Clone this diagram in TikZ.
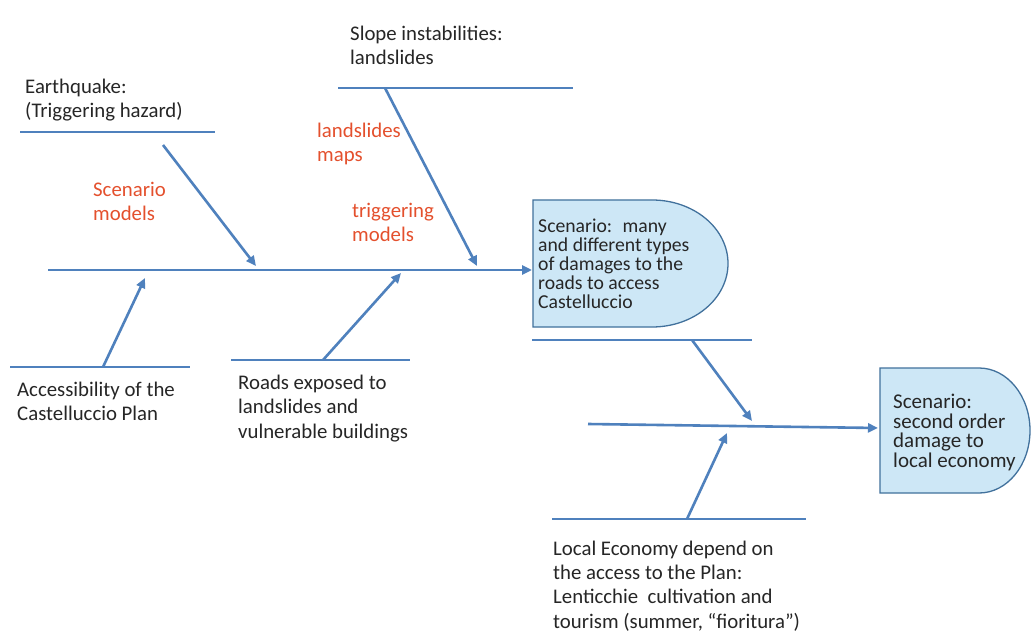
\documentclass[tikz,border=0pt]{standalone}
\usepackage{fontspec}
\setmainfont{Carlito}
\usetikzlibrary{arrows.meta}
\definecolor{fishblue}{RGB}{79,129,189}
\definecolor{boxfill}{RGB}{205,231,246}
\definecolor{boxedge}{RGB}{65,113,156}
\definecolor{ink}{RGB}{38,38,38}
\definecolor{modelred}{RGB}{228,80,45}
\begin{document}
\begin{tikzpicture}[x=1pt,y=-1pt,
  causeline/.style={draw=fishblue, line width=2pt},
  bone/.style={draw=fishblue, line width=2.6pt, -{Triangle[length=10pt,width=9pt]}},
  txt/.style={align=left, anchor=north west, inner sep=0pt, text=ink,
    font=\fontsize{20.8}{24.3}\selectfont, execute at begin node=\strut},
  redtxt/.style={txt, text=modelred},
  boxtxt/.style={txt, font=\fontsize{19.7}{19}\selectfont,
    execute at begin node={\lineskiplimit=-30pt\relax\strut}},
  boxtxtb/.style={txt, font=\fontsize{21}{19.5}\selectfont,
    execute at begin node={\lineskiplimit=-30pt\relax\strut}},
  scenbox/.style={draw=boxedge, fill=boxfill, line width=1.3pt}]
\useasboundingbox[fill=white] (0,0) rectangle (1032,636);

% effect shapes (D-shaped heads)
\draw[scenbox] (533,200) -- (652,200)
  arc[start angle=-90, end angle=90, x radius=76, y radius=63.5] -- (533,327) -- cycle;
\draw[scenbox] (880,368) -- (979,368)
  arc[start angle=-90, end angle=90, x radius=51, y radius=62.5] -- (880,493) -- cycle;

\node[boxtxt] (scen1) at (538,218.7) {Scenario:~ many\\and different types\\of damages to the\\roads to access\\Castelluccio};
\node[boxtxtb] (scen2) at (893,394) {Scenario:\\second order\\damage to\\local economy};

% spine end points
\coordinate (sp1s) at (48,270);
\coordinate (sp1e) at (532,270);
\coordinate (sp2s) at (588,424);
\coordinate (sp2e) at (878,428);

% cause lines
\coordinate (eqL) at (20,132);   \coordinate (eqR) at (215,132);
\coordinate (slL) at (338,88);   \coordinate (slR) at (573,88);
\coordinate (acL) at (10,367);   \coordinate (acR) at (190,367);
\coordinate (rdL) at (231,360);  \coordinate (rdR) at (410,360);
\coordinate (upL) at (532,340);  \coordinate (upR) at (752,340);
\coordinate (ecL) at (552,519);  \coordinate (ecR) at (806,519);
\foreach \a/\b in {eqL/eqR, slL/slR, acL/acR, rdL/rdR, upL/upR, ecL/ecR}
  \draw[causeline] (\a) -- (\b);

% bone start and end points
\coordinate (eqA) at (163,145);  \coordinate (eqB) at (256,266);
\coordinate (slA) at (385,88);   \coordinate (slB) at (477,266);
\coordinate (acA) at (103,367);  \coordinate (acB) at (145,278);
\coordinate (rdA) at (323,360);  \coordinate (rdB) at (401,273);
\coordinate (upA) at (692,340);  \coordinate (upB) at (752,421);
\coordinate (ecA) at (687,519);  \coordinate (ecB) at (727,433);

\draw[bone] (sp1s) -- (sp1e);
\draw[bone] (sp2s) -- (sp2e);
\foreach \a/\b in {eqA/eqB, slA/slB, acA/acB, rdA/rdB, upA/upB, ecA/ecB}
  \draw[bone] (\a) -- (\b);

% cause labels
\node[txt] (eq) at (25,79) {Earthquake:\\(Triggering hazard)};
\node[txt] (slope) at (350,26) {Slope instabilities:\\landslides};
\node[txt] (access) at (17,382) {Accessibility of the\\Castelluccio Plan};
\node[txt] (roads) at (238,375) {Roads exposed to\\landslides and\\vulnerable buildings};
\node[txt] (econ) at (553,540.5) {Local Economy depend on\\the access to the Plan:\\Lenticchie~ cultivation and\\tourism (summer, “fioritura”)};

% model labels
\node[redtxt] (scmod) at (93,182) {Scenario\\models};
\node[redtxt] (lsmaps) at (317,123) {landslides\\maps};
\node[redtxt] (trmod) at (352,203) {triggering\\models};
\end{tikzpicture}
\end{document}
